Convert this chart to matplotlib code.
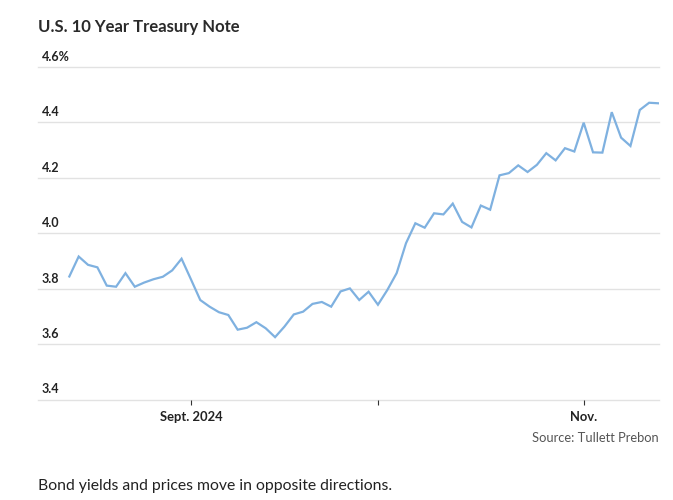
import numpy as np
from matplotlib import pyplot as plt

plt.rcParams['font.family'] = ['Lato', 'DejaVu Sans']

# daily 10-year yield, mid Aug - mid Nov 2024 (trading days)
yields = [3.844, 3.916, 3.886, 3.877, 3.811, 3.807, 3.856, 3.807, 3.822, 3.834,
          3.843, 3.866, 3.908, 3.834, 3.759, 3.735, 3.715, 3.705, 3.652, 3.659,
          3.679, 3.657, 3.625, 3.663, 3.707, 3.717, 3.745, 3.752, 3.735, 3.790,
          3.801, 3.759, 3.789, 3.742, 3.795, 3.856, 3.964, 4.036, 4.020, 4.072,
          4.068, 4.107, 4.041, 4.021, 4.100, 4.085, 4.209, 4.217, 4.245, 4.221,
          4.247, 4.289, 4.263, 4.307, 4.295, 4.399, 4.292, 4.291, 4.437, 4.345,
          4.315, 4.445, 4.471, 4.469]
# first trading day of each month
month_idx = [13, 33, 55]
month_labels = ['Sept. 2024', '', 'Nov.']
y_ticks = [3.4, 3.6, 3.8, 4.0, 4.2, 4.4, 4.6]
y_labels = ['3.4', '3.6', '3.8', '4.0', '4.2', '4.4', '4.6%']

W, H = 673, 500
fig = plt.figure(figsize=(W / 100, H / 100), dpi=100)
ax = fig.add_axes([38 / W, 1 - 399.5 / H, (658.5 - 38) / W, (399.5 - 67) / H])

x = np.arange(len(yields))
ax.plot(x, yields, color='#7fb1e0', linewidth=1.6, solid_joinstyle='miter')

ax.set_xlim(-3.35, len(yields) - 1)
ax.set_ylim(3.4, 4.6)

for v in y_ticks:
    ax.axhline(v, color='#e2e2e2', linewidth=1, zorder=0, clip_on=False)
for v, lab in zip(y_ticks, y_labels):
    ax.annotate(lab, xy=(0.006, v), xycoords=('axes fraction', 'data'),
                xytext=(0, 3), textcoords='offset points',
                ha='left', va='bottom', fontsize=9, fontweight='bold',
                color='#222222')

ax.set_yticks([])
ax.set_xticks(month_idx)
ax.set_xticklabels(month_labels, fontsize=9.4, fontweight='bold', color='#222222')
ax.tick_params(axis='x', length=3.5, width=0.8, color='#333333', pad=4.5)
for s in ax.spines.values():
    s.set_visible(False)

fig.text(38 / W, 1 - 27 / H, 'U.S. 10 Year Treasury Note', fontsize=12,
         fontweight='bold', color='#2a2a2a', ha='left', va='center')
fig.text(658.5 / W, 1 - 438 / H, 'Source: Tullett Prebon', fontsize=9.3,
         color='#555555', ha='right', va='center')
fig.text(38 / W, 1 - 486 / H, 'Bond yields and prices move in opposite directions.',
         fontsize=11.3, color='#222222', ha='left', va='center')

fig.savefig('out.png', dpi=100)
